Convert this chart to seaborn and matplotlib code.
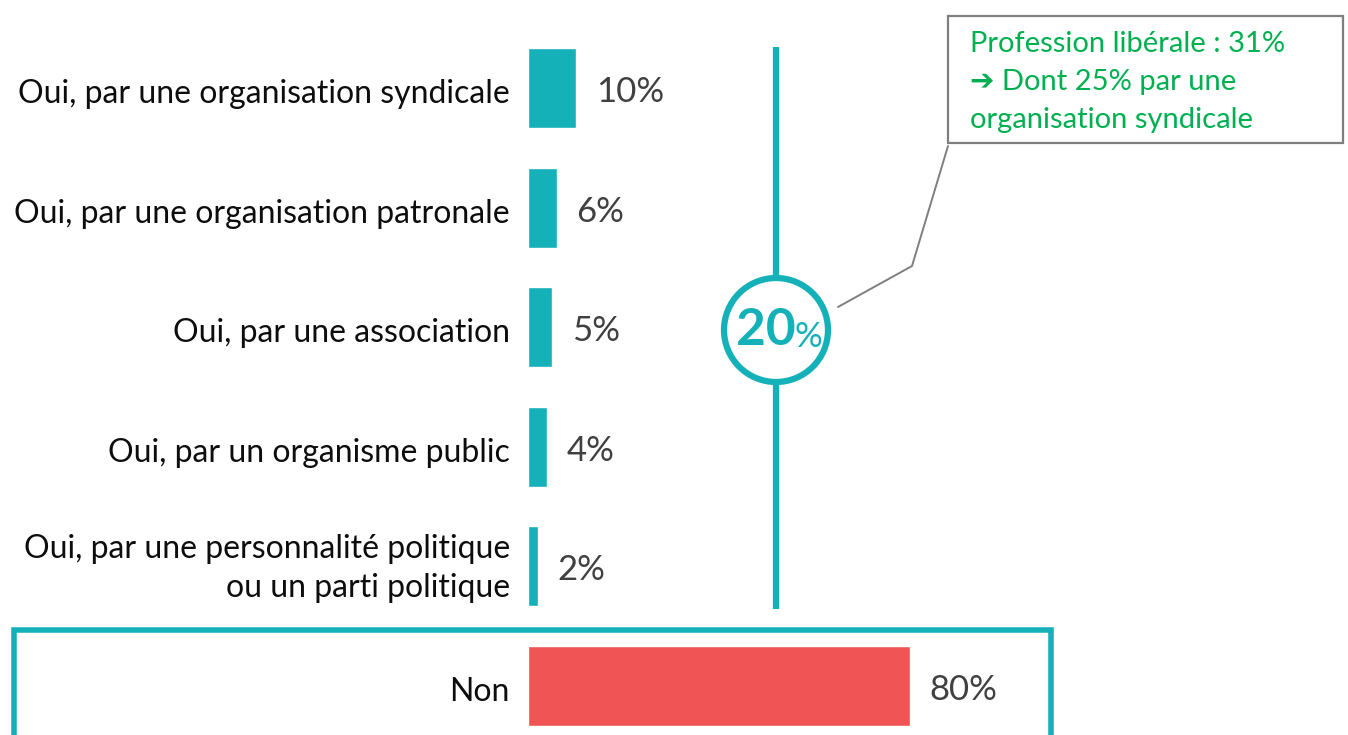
import matplotlib
matplotlib.use("Agg")
import matplotlib.pyplot as plt
from matplotlib import transforms
from matplotlib.patches import Circle, Rectangle
from matplotlib.lines import Line2D
import seaborn as sns
import pandas as pd

categories = [
    "Oui, par une organisation syndicale",
    "Oui, par une organisation patronale",
    "Oui, par une association",
    "Oui, par un organisme public",
    "Oui, par une personnalité politique\nou un parti politique",
    "Non",
]
values = [10, 6, 5, 4, 2, 80]
value_labels = ["10%", "6%", "5%", "4%", "2%", "80%"]
total_oui = "20"
note_lines = ["Profession libérale : 31%", "➔ Dont 25% par une", "organisation syndicale"]

TEAL = "#14B1B8"
RED = "#F05454"
GREEN = "#00B050"
GREY_TXT = "#404040"

W, H = 1348, 735
sns.set_theme(style="white")
plt.rcParams["font.family"] = ["Lato", "DejaVu Sans"]

fig = plt.figure(figsize=(W / 100, H / 100), dpi=100)
ax = fig.add_axes([0, 0, 1, 1])

# pixel-style transform (origin top-left) for the decorations
px = transforms.Affine2D().scale(1 / W, -1 / H).translate(0, 1) + fig.transFigure

df = pd.DataFrame({"cat": categories, "val": values})
colors = [TEAL] * 5 + [RED]
sns.barplot(data=df, x="val", y="cat", hue="cat", palette=colors, legend=False,
            orient="h", width=0.67, ax=ax, saturation=1)

# scale: 0% at x=528px, 4.77 px per percent; rows 119.6 px apart
x0, sx = 528, 4.77
y0, sy = 88, 119.6
ax.set_xlim(-x0 / sx, (W - x0) / sx)
ax.set_ylim((H - y0) / sy, -y0 / sy)
ax.axis("off")

for i, (cat, v, lab) in enumerate(zip(categories, values, value_labels)):
    ax.text(-18 / sx, i + (2 if "\n" in cat else 6) / sy, cat, ha="right",
            va="center", fontsize=23, color="#0D0D0D", linespacing=1.38)
    ax.text(v + 20 / sx, i + 4 / sy, lab, ha="left", va="center", fontsize=25,
            color=GREY_TXT)

# vertical connector and circle with total
fig.add_artist(Line2D([776, 776], [47, 609], color=TEAL, lw=4.5, transform=px,
                      solid_capstyle="butt", zorder=1))
fig.add_artist(Circle((776, 330), 52, transform=px, facecolor="white",
                      edgecolor=TEAL, lw=4.5, zorder=2))
fig.text(766, 331, total_oui, transform=px, ha="center", va="center",
         fontsize=37, fontweight="bold", color=TEAL, zorder=3)
fig.text(795, 337, "%", transform=px, ha="left", va="center",
         fontsize=25, color=TEAL, zorder=3)

# callout
fig.add_artist(Line2D([838, 912, 948], [307, 266, 146], color="#7F7F7F",
                      lw=1.4, transform=px))
fig.add_artist(Rectangle((948, 143), 395, -127, transform=px, facecolor="white",
                         edgecolor="#7F7F7F", lw=1.6))
for j, line in enumerate(note_lines):
    fig.text(970, 44 + j * 38, line, transform=px, ha="left", va="center",
             fontsize=21, color=GREEN)

# frame around the "Non" row
fig.add_artist(Rectangle((14, 760), 1037, -130, transform=px, facecolor="none",
                         edgecolor=TEAL, lw=4))

fig.savefig("out.png", dpi=100)
